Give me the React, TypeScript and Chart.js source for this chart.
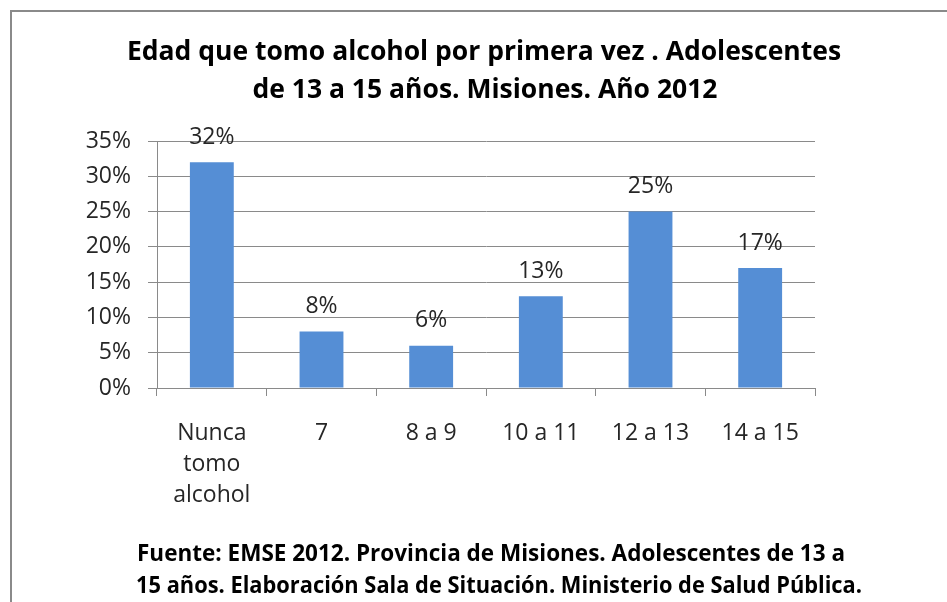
import React, { useEffect, useRef } from "react";
import { Chart, registerables } from "chart.js";

Chart.register(...registerables);

const categories: (string | string[])[] = [["Nunca", "tomo", "alcohol"], "7", "8 a 9", "10 a 11", "12 a 13", "14 a 15"];
const values: number[] = [32, 8, 6, 13, 25, 17];
const titleLines: string[] = [
  "Edad que tomo alcohol por primera vez . Adolescentes",
  "de 13 a 15 años. Misiones. Año 2012",
];
const footerLines: string[] = [
  "Fuente: EMSE 2012. Provincia de Misiones. Adolescentes de 13 a",
  "15 años. Elaboración Sala de Situación. Ministerio de Salud Pública.",
];
const yMin = 0;
const yMax = 35;
const yStep = 5;

const FONT = "'Open Sans', 'DejaVu Sans', sans-serif";
const TEXT = "#262626";

const decorPlugin = {
  id: "decor",
  afterDraw(chart: any) {
    const ctx = chart.ctx;
    ctx.save();
    // frame (left and top edges)
    ctx.strokeStyle = "#8a8a8a";
    ctx.lineWidth = 2;
    ctx.beginPath();
    ctx.moveTo(11, 602);
    ctx.lineTo(11, 11);
    ctx.lineTo(947, 11);
    ctx.stroke();

    ctx.fillStyle = "#000";
    ctx.textAlign = "center";
    ctx.textBaseline = "middle";
    ctx.font = `bold 26.5px ${FONT}`;
    ctx.fillText(titleLines[0], 484, 52, 718);
    ctx.fillText(titleLines[1], 485, 90, 718);

    ctx.font = `bold 23px ${FONT}`;
    ctx.fillText(footerLines[0], 491, 554, 708);
    ctx.fillText(footerLines[1], 499, 586, 726);

    // data labels
    const meta = chart.getDatasetMeta(0);
    ctx.font = `23px ${FONT}`;
    ctx.fillStyle = TEXT;
    meta.data.forEach((bar: any, i: number) => {
      ctx.fillText(`${values[i]}%`, bar.x, bar.y - 25);
    });
    ctx.restore();
  },
};

export default function App() {
  const ref = useRef<HTMLCanvasElement>(null);
  useEffect(() => {
    const chart = new Chart(ref.current!, {
      type: "bar",
      data: {
        labels: categories,
        datasets: [
          {
            data: values,
            backgroundColor: "#558ED5",
            barPercentage: 0.4,
            categoryPercentage: 1,
          },
        ],
      },
      options: {
        animation: false,
        responsive: false,
        maintainAspectRatio: false,
        layout: { padding: { top: 141, right: 132, left: 0, bottom: 0 } },
        plugins: {
          legend: { display: false },
          title: { display: false },
          tooltip: { enabled: false },
        },
        scales: {
          x: {
            afterFit: (s: any) => {
              s.height = 214;
            },
            grid: {
              drawOnChartArea: false,
              drawTicks: true,
              tickLength: 8,
              color: "#8a8a8a",
              offset: true,
            },
            border: { color: "#8a8a8a" },
            ticks: {
              color: TEXT,
              font: { family: FONT, size: 23, lineHeight: 1.35 },
              padding: 22,
              maxRotation: 0,
              autoSkip: false,
            },
          },
          y: {
            min: yMin,
            max: yMax,
            afterFit: (s: any) => {
              s.width = 157;
            },
            grid: { color: "#8a8a8a", tickLength: 9 },
            border: { color: "#8a8a8a" },
            ticks: {
              stepSize: yStep,
              color: TEXT,
              padding: 17,
              font: { family: FONT, size: 23 },
              callback: (v: any) => `${v}%`,
            },
          },
        },
      },
      plugins: [decorPlugin],
    });
    return () => chart.destroy();
  }, []);
  return (
    <div style={{ position: "absolute", left: 0, top: 0, width: 947, height: 602, background: "#fff" }}>
      <canvas ref={ref} width={947} height={602} style={{ display: "block" }} />
    </div>
  );
}
